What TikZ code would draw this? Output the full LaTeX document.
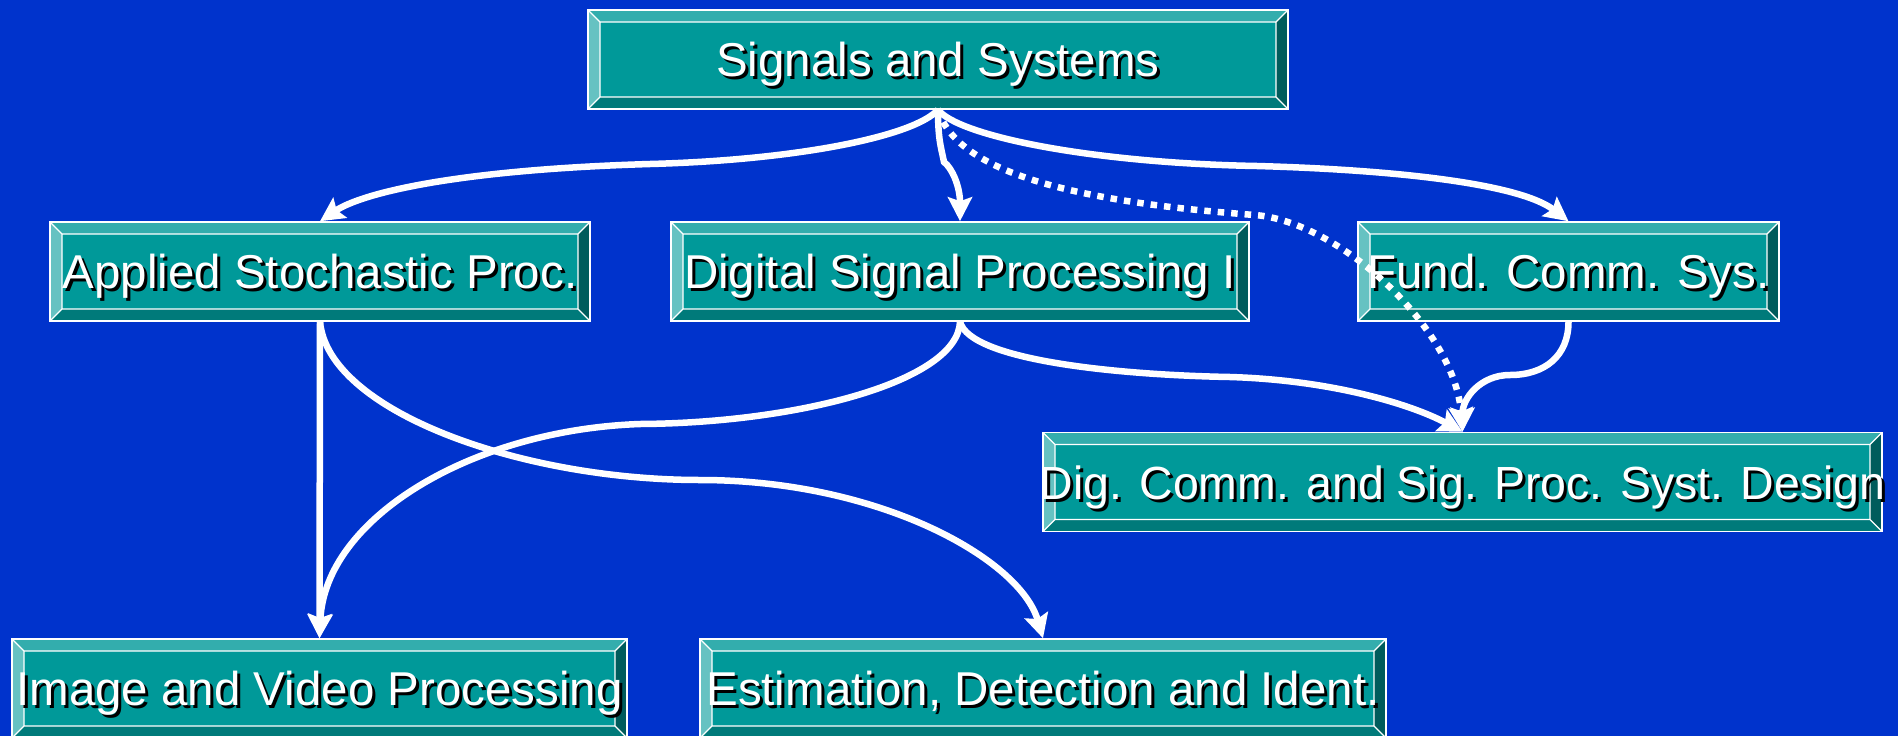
\documentclass[tikz,border=0pt]{standalone}
\usepackage{fontspec}
\setmainfont{Liberation Sans}
\usepackage{tikz}
\usetikzlibrary{arrows.meta,calc}
\definecolor{bgblue}{RGB}{0,51,204}
\definecolor{tealbody}{RGB}{0,153,153}
\definecolor{tealtop}{RGB}{51,173,173}
\definecolor{tealleft}{RGB}{102,194,194}
\definecolor{tealbot}{RGB}{0,122,122}
\definecolor{tealright}{RGB}{0,92,92}
\newcommand{\shtext}[1]{\makebox[0pt][c]{\rlap{\kern3pt\raisebox{-3pt}{\color{black}#1}}#1}}
\newcommand{\bv}{12pt}

\begin{document}
\begin{tikzpicture}[x=1pt,y=-1pt,
  every node/.style={font=\fontsize{47.5}{56}\selectfont,text=white},
  course/.style={draw=white,line width=1.5pt,fill=tealbody,inner sep=0pt,
    minimum width=#1,minimum height=99pt,text height=34pt,text depth=0pt,
    path picture={
      \coordinate (o1) at (path picture bounding box.north west);
      \coordinate (o2) at (path picture bounding box.north east);
      \coordinate (o3) at (path picture bounding box.south east);
      \coordinate (o4) at (path picture bounding box.south west);
      \coordinate (i1) at ([shift={(\bv,-\bv)}]o1);
      \coordinate (i2) at ([shift={(-\bv,-\bv)}]o2);
      \coordinate (i3) at ([shift={(-\bv,\bv)}]o3);
      \coordinate (i4) at ([shift={(\bv,\bv)}]o4);
      \fill[tealtop] (o1) -- (o2) -- (i2) -- (i1) -- cycle;
      \fill[tealright] (o2) -- (o3) -- (i3) -- (i2) -- cycle;
      \fill[tealbot] (o3) -- (o4) -- (i4) -- (i3) -- cycle;
      \fill[tealleft] (o4) -- (o1) -- (i1) -- (i4) -- cycle;
      \draw[white,line width=1.2pt] (i1) rectangle (i3)
        (o1) -- (i1) (o2) -- (i2) (o3) -- (i3) (o4) -- (i4);
    }},
  link/.style={draw=white,line width=6.5pt,-{Stealth[length=24pt,width=24pt,inset=4pt]}},
  hint/.style={link,dash pattern=on 6.5pt off 7pt}]

  \fill[bgblue] (0,0) rectangle (1898,736);
  \useasboundingbox (0,0) rectangle (1898,736);

  \node[course=700pt] (sas) at (938,59.5) {\shtext{Signals and Systems}};
  \node[course=540pt] (asp) at (320,271.5) {\shtext{Applied Stochastic Proc.}};
  \node[course=578pt] (dsp) at (960,271.5) {\shtext{Digital Signal Processing I}};
  \node[course=421pt] (fcs) at (1568.5,271.5) {\shtext{Fund. Comm. Sys.}};
  \node[course=839pt,font=\fontsize{46.5}{56}\selectfont] (dcsp) at (1462.5,482)
    {\shtext{Dig. Comm. and Sig. Proc. Syst. Design}};
  \node[course=615pt] (ivp) at (319.5,688.5) {\shtext{Image and Video Processing}};
  \node[course=686pt] (edi) at (1043,688.5) {\shtext{Estimation, Detection and Ident.}};

  \draw[link] (sas.south) .. controls +(-23,26) and +(150,-4) .. (650,164)
    .. controls +(-200,6) and +(40,-27) .. (asp.north);
  \draw[link] (sas.south) .. controls +(0,30) and +(-3,-15) .. (944,162)
    .. controls +(8,6) and +(0,-35) .. (dsp.north);
  \draw[link] (sas.south) .. controls +(20,26) and +(-167,-3) .. (1257,166)
    .. controls +(143,4) and +(-48,-37) .. (fcs.north);
  \draw[hint] (sas.south) .. controls +(17,56) and +(-205,-15) .. (1255,215)
    .. controls +(85,7) and +(-7.5,-103) .. (dcsp.north);
  \draw[link] (dsp.south) .. controls +(10,39) and +(-110,-2) .. (1230,377)
    .. controls +(100,3) and +(-52.5,-28) .. (dcsp.north);
  \draw[link] (fcs.south) .. controls +(0,34) and +(35,0) .. (1510,375)
    .. controls +(-30,0) and +(0,-33) .. (dcsp.north);
  \draw[link] (asp.south) -- (ivp.north);
  \draw[link] (asp.south) .. controls +(8,89) and +(-180,0) .. (700,480)
    .. controls +(180,0) and +(-23,-79) .. (edi.north);
  \draw[link] (dsp.south) .. controls +(-2,59) and +(160,-1) .. (640,424)
    .. controls +(-170,6) and +(5.5,-119) .. (ivp.north);
\end{tikzpicture}
\end{document}
